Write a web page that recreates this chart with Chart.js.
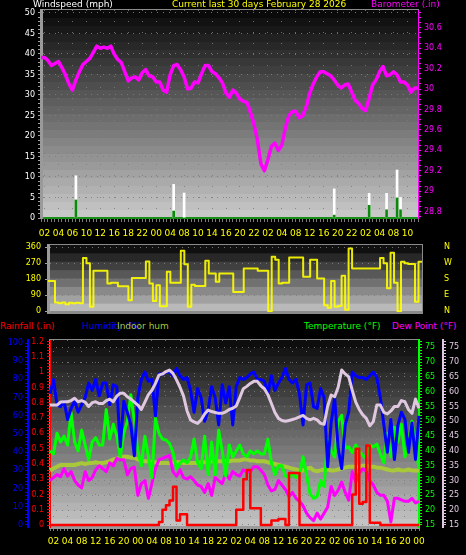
<!DOCTYPE html>
<html>
<head>
<meta charset="utf-8">
<title>Current last 30 days</title>
<script src="https://cdn.jsdelivr.net/npm/chart.js@4.4.1/dist/chart.umd.min.js"></script>
<style>
  body { margin: 0; background: #000; width: 466px; height: 555px; overflow: hidden; position: relative; font-family: 'DejaVu Sans', sans-serif; }
  canvas { position: absolute; left: 0; }
  .lbl { position: absolute; font-size: 9px; line-height: 10px; white-space: nowrap; }
</style>
</head>
<body>
<canvas id="wind-chart" width="466" height="240" style="top:0"></canvas>
<canvas id="dir-chart" width="466" height="80" style="top:240px"></canvas>
<canvas id="temp-chart" width="466" height="223" style="top:332px"></canvas>

<div class="lbl" style="left:33px;top:-1px;color:#fff">Windspeed (mph)</div>
<div class="lbl" style="left:172px;top:-1px;color:#ff0">Current last 30 days February 28 2026</div>
<div class="lbl" style="left:371px;top:-1px;color:#f0f">Barometer (.in)</div>

<div class="lbl" style="left:0;top:321px;color:#f00">Rainfall (.in)</div>
<div class="lbl" style="left:82px;top:321px;color:#00f">Humidity (%)</div>
<div class="lbl" style="left:117px;top:321px;color:#a8c83a">Indoor hum</div>
<div class="lbl" style="left:304px;top:321px;color:#0f0">Temperature (°F)</div>
<div class="lbl" style="left:392px;top:321px;color:#f0f">Dew Point (°F)</div>

<script>
//tick labels
const topTimeLabels = ["02","04","06","10","12","16","18","22","00","04","08","10","14","16","20","22","02","04","08","12","16","20","22","02","04","08","10"];
const bottomTimeLabels = ["02","04","08","12","16","20","00","04","08","10","14","18","22","02","04","08","12","16","20","22","02","06","10","14","16","20","00"];
const windTicks = [0, 5, 10, 15, 20, 25, 30, 35, 40, 45, 50];
const baroTicks = [28.8, 29, 29.2, 29.4, 29.6, 29.8, 30, 30.2, 30.4, 30.6];
const dirTicks = [0, 90, 180, 270, 360];
const dirLetters = ["N", "E", "S", "W", "N"];
const humTicks = [0, 10, 20, 30, 40, 50, 60, 70, 80, 90, 100];
const rainTicks = [0, 0.1, 0.2, 0.3, 0.4, 0.5, 0.6, 0.7, 0.8, 0.9, 1, 1.1, 1.2];
const tempTicks = [15, 20, 25, 30, 35, 40, 45, 50, 55, 60, 65, 70, 75];

//top chart data
const baroValues = [30.31,30.31,30.28,30.23,30.25,30.27,30.21,30.14,30.05,29.99,
  30.09,30.17,30.24,30.27,30.30,30.36,30.42,30.40,30.41,30.40,
  30.42,30.34,30.29,30.26,30.17,30.08,30.11,30.12,30.09,30.16,
  30.19,30.13,30.12,30.07,30.07,29.99,29.97,30.14,30.23,30.24,
  30.19,30.12,30.00,30.01,30.07,30.06,30.15,30.23,30.23,30.17,
  30.15,30.11,30.06,29.96,29.92,29.99,29.96,29.90,29.88,29.87,
  29.77,29.66,29.50,29.27,29.20,29.31,29.44,29.47,29.40,29.45,
  29.62,29.74,29.78,29.78,29.72,29.74,29.83,29.96,30.05,30.12,
  30.17,30.17,30.15,30.13,30.09,30.04,30.01,30.04,30.05,29.97,
  29.89,29.86,29.81,29.79,29.91,30.04,30.09,30.17,30.22,30.13,
  30.14,30.17,30.14,30.07,30.07,30.04,29.97,30.01,30.01];
const windSlots = [10, 38, 41, 84, 94, 99, 102, 103];
const gustPeaks = [10.3, 8.2, 6.1, 7.1, 6.0, 6.0, 11.7, 5.0];
const windPeaks = [4.4, 1.7, 0, 0.7, 3.1, 2.0, 4.9, 2.0];

//wind direction
const dirValues = [170,170,50,45,50,40,48,45,48,45,
  300,270,25,228,228,228,228,156,160,160,
  141,141,141,62,188,188,188,188,280,156,
  58,147,28,28,222,160,160,160,341,265,
  25,150,143,143,143,285,213,213,166,213,
  213,213,213,109,109,109,241,241,241,241,
  228,228,228,0,307,290,156,160,160,303,
  303,303,303,194,194,290,290,185,185,34,
  20,170,25,30,200,9,354,241,241,241,
  241,241,241,241,241,300,270,130,330,160,
  0,279,270,266,266,53,279,279];

//bottom chart data
const humValues = [72,80,66,65,68,58,64,68,62,66,
  70,78,74,80,71,78,78,66,77,76,
  43,68,62,55,38,70,80,84,79,80,
  60,83,83,84,84,82,86,82,80,81,
  74,62,75,70,57,63,76,70,55,77,
  67,76,55,76,81,80,81,83,84,80,
  80,79,72,82,74,78,81,86,80,78,
  80,72,55,77,78,65,64,75,70,32,
  56,70,42,31,55,62,84,82,81,81,
  80,82,84,81,70,55,40,58,36,55,
  62,58,40,56,36,60];
const indoorHumValues = [30,31,32,33,33,33,33,33,33.5,34,
  33.5,34,34,34.5,34,34,34.5,35,36,36.5,
  37,37.5,37.5,37,37,36,35.5,35,35,34.5,
  34.5,34,34,34,34,34.5,34.5,34.5,34,34,
  34,34,34,34.5,34.5,35,35,35,35,35,
  35,35,35.5,35.5,35.5,36,36,35.5,35.5,35,
  35,35,34.5,34,33.5,33,32.5,32,31.5,31,
  30.5,30,30,31,31.5,30,29.5,30,30.5,30.5,
  30,30,30.5,31,31.5,32,32,32,32,32.5,
  32.5,32,32,31.5,31.5,31,30.5,30,30,30.5,
  30,30,30.5,30,30,30];
const indoorTempValues = [55.5,55.5,55.5,56.5,56.6,56.6,57,57.8,56.6,57,
  56.5,55,56.3,56.6,56,56,57,57.5,56.6,58.5,
  59.5,59.5,58.3,57.5,56.5,55.5,54,56.5,59,60.5,
  62.8,65.6,66,66.8,67.3,66.2,64,61.5,58.5,53.5,
  50.5,49.8,49.3,50.5,52.5,53.8,53.3,53,52.7,52.7,
  53.2,54,54.4,55.2,58,61,61.8,62.8,63.5,63.5,
  62,61,59,56,53,51,50.3,50,50.3,50.6,
  51,51.5,52,51,50.5,51,50.5,49.3,49,55,
  58.9,58.3,61.5,67.3,66,65,60.5,56.5,54,52.2,
  51,48.5,49.9,55.5,55.5,53,52.5,53.5,55,55,
  57,56.6,54,52.7,57.5,54.4];
const tempValues = [40,39,46,43,45,42,53,43,40,47,
  42,37,43,44.5,42,42,54,44,49,45,
  38,46,50,59,50,40,35,45,38,31,
  51,46,44,43.7,42.5,39.5,34,36,37,36,
  38,44,36,34,45,32,43,32,47,40,
  31.5,42,38,40,42,39,38,40,39,40,
  39,39,44,36,32,35,35,31.5,31,32.4,
  31,32,38,32,25.5,24,24.6,30,28,44,
  40,38,50,52,41,41.4,39.5,42,40,38.5,
  37.5,42,41.4,42.3,39,36,46,38,48,43,
  49,38,42.6,50,42,34];
const dewValues = [30,31,32,31.3,34,31.5,33,30,28.5,27.5,
  33,30,31,33.6,35,34,33,36,35,37.5,
  37,37,32,34,34.5,25,29,30,24,29,
  34,37,37.5,38,38.5,33,31.5,33.6,31,30.5,
  31.3,30,28.5,28,26,29,25,31,30,29,
  32.4,30.5,33,32,31.5,33.6,33,33,34.7,34.7,
  33.5,32,28.5,26.5,27,30,28.5,27,24.6,26,
  24,23,21.5,19,17.5,16.5,19,17,19,21,
  28,25,26.8,29.5,26,23.4,33,29.5,32.5,34,
  33,30,28.5,26,25,25,23,16,24,24,
  23.5,23,23,24,22.5,23];
const rainValues = [0,0,0,0,0,0,0,0,0,0,
  0,0,0,0,0,0,0,0,0,0,
  0,0,0,0,0,0,0,0,0,0,
  0,0.02,0.1,0.13,0.16,0.25,0.03,0.07,0.07,0,
  0,0,0,0,0,0,0,0,0,0,
  0,0,0,0.1,0.1,0.3,0.36,0.11,0.11,0.11,
  0,0,0,0.03,0.03,0.04,0.04,0,0.34,0.34,
  0.34,0,0,0,0,0,0,0,0,0,
  0,0,0,0,0,0,0.2,0.5,0.14,0.15,
  0.52,0.015,0.015,0.015,0,0,0,0,0,0,
  0,0,0,0,0,0];

Chart.defaults.font.family = "'DejaVu Sans', sans-serif";
Chart.defaults.font.size = 8;
Chart.defaults.animation = false;
Chart.defaults.plugins.legend.display = false;
Chart.defaults.plugins.tooltip.enabled = false;
Chart.defaults.elements.point.radius = 0;
Chart.defaults.elements.line.borderJoinStyle = 'round';

//banded gray plot background
const plotBackground = {
    id: 'plotBackground',
    beforeDraw(chart, args, opts) {
        const {ctx, chartArea: a} = chart;
        const h = a.bottom - a.top;
        const bands = Math.max(2, Math.round(h / 8));
        ctx.save();
        for (let b = 0; b < bands; b++) {
            const g = Math.round(opts.from + (opts.to - opts.from) * b / (bands - 1));
            ctx.fillStyle = `rgb(${g},${g},${g})`;
            ctx.fillRect(a.left, a.top + h * b / bands, a.right - a.left, h / bands + 1);
        }
        ctx.strokeStyle = '#8a8a8a';
        ctx.lineWidth = 1;
        ctx.strokeRect(a.left - 0.5, a.top - 0.5, a.right - a.left + 1, a.bottom - a.top + 1);
        ctx.restore();
    }
};

function stepTicks(first, last, step) {
    const out = [];
    for (let v = first; v <= last + 1e-9; v += step) out.push({value: Math.round(v * 1000) / 1000});
    return out;
}
const isMajor = (list, v) => list.some(t => Math.abs(t - v) < 1e-6);

function sideAxis(o) {
    return {
        type: 'linear', axis: 'y', position: o.position, weight: o.weight || 0,
        min: o.min, max: o.max,
        afterBuildTicks: s => { s.ticks = stepTicks(o.first, o.last, o.minor); },
        afterFit: s => { s.width = o.width; s.paddingTop = 0; s.paddingBottom = 0; },
        ticks: {
            autoSkip: false, color: o.color, padding: o.pad || 3,
            callback: v => (isMajor(o.major, v) ? String(v) : '')
        },
        grid: {
            drawOnChartArea: !!o.dots,
            color: c => (o.dots && c.tick && isMajor(o.major, c.tick.value)) ? o.dots : 'transparent',
            tickColor: o.tickColor || o.color,
            tickLength: 3
        },
        border: { color: o.borderColor || o.color, width: o.borderWidth || 1, dash: [1, 5] }
    };
}

function timeAxis(o) {
    return {
        type: 'category', offset: false,
        afterFit: s => { s.height = o.height; s.paddingLeft = 0; s.paddingRight = 0; },
        ticks: { autoSkip: false, maxRotation: 0, color: '#ffff00', font: {size: 9}, padding: o.pad },
        grid: {
            offset: false,
            color: c => (c.index % 4 === 1 ? 'rgba(125,125,125,0.85)' : 'transparent'),
            tickColor: '#7a7a7a', tickLength: 4
        },
        border: { color: o.borderColor, width: o.borderWidth, dash: [1, 10] }
    };
}

const slotLabels = (n, names) => Array.from({length: n}, (_, i) => (i % 4 === 1 ? names[(i - 1) / 4] : ''));

//wind + barometer
const topLabels = slotLabels(baroValues.length, topTimeLabels);
const gustSeries = topLabels.map((_, i) => (windSlots.includes(i) ? gustPeaks[windSlots.indexOf(i)] : null));
const windSeries = topLabels.map((_, i) => (windSlots.includes(i) ? windPeaks[windSlots.indexOf(i)] : null));

new Chart(document.getElementById('wind-chart'), {
    type: 'bar',
    data: {
        labels: topLabels,
        datasets: [
            { type: 'line', label: 'Barometer', data: baroValues, yAxisID: 'baro', borderColor: '#ff00ff', borderWidth: 3.5, order: 0 },
            { label: 'Wind', data: windSeries, yAxisID: 'wind', backgroundColor: '#0a8a0a', barThickness: 2, grouped: false, order: 1 },
            { label: 'Gust', data: gustSeries, yAxisID: 'wind', backgroundColor: '#ffffff', barThickness: 2, grouped: false, order: 2 }
        ]
    },
    options: {
        responsive: false,
        layout: { padding: { top: 10, left: 0, right: 0, bottom: 0 } },
        plugins: { plotBackground: { from: 10, to: 200 } },
        scales: {
            x: timeAxis({ height: 22, pad: 6, borderColor: '#189018', borderWidth: 2 }),
            wind: sideAxis({ position: 'left', min: 0, max: 50.73, first: 0, last: 50, minor: 1, major: windTicks,
                width: 41, color: '#ffffff', tickColor: '#a0a0a0', borderColor: '#9a9a9a', borderWidth: 3,
                dots: 'rgba(125,125,125,0.9)', pad: 3 }),
            baro: sideAxis({ position: 'right', min: 28.738, max: 30.774, first: 28.75, last: 30.75, minor: 0.05,
                major: baroTicks, width: 48, color: '#ff00ff' })
        }
    },
    plugins: [plotBackground]
});

//wind direction
new Chart(document.getElementById('dir-chart'), {
    type: 'line',
    data: {
        labels: dirValues.map((_, i) => i),
        datasets: [{ label: 'Direction', data: dirValues, yAxisID: 'dir', borderColor: 'rgba(255,255,0,0.9)', borderWidth: 2, stepped: true }]
    },
    options: {
        responsive: false,
        layout: { padding: { top: 5, left: 0, right: 0, bottom: 0 } },
        plugins: { plotBackground: { from: 16, to: 185 } },
        scales: {
            x: {
                type: 'category', offset: false,
                afterFit: s => { s.height = 8; s.paddingLeft = 0; s.paddingRight = 0; },
                ticks: { display: false },
                grid: { display: false },
                border: { color: '#8a8a8a', width: 3 }
            },
            dir: sideAxis({ position: 'left', min: -4, max: 373, first: 0, last: 360, minor: 90, major: dirTicks,
                width: 48, color: '#ffff00', tickColor: '#a0a0a0', borderColor: '#9a9a9a', borderWidth: 3,
                dots: 'rgba(125,125,125,0.9)', pad: 4 }),
            compass: {
                type: 'linear', axis: 'y', position: 'right', min: -4, max: 373,
                afterBuildTicks: s => { s.ticks = dirTicks.map(v => ({value: v})); },
                afterFit: s => { s.width = 44; s.paddingTop = 0; s.paddingBottom = 0; },
                ticks: { autoSkip: false, color: '#ffff00', padding: 14, callback: v => dirLetters[dirTicks.indexOf(v)] },
                grid: { display: false },
                border: { display: false }
            }
        }
    },
    plugins: [plotBackground]
});

//temperature, humidity, rain
const bottomLabels = slotLabels(humValues.length, bottomTimeLabels);

new Chart(document.getElementById('temp-chart'), {
    type: 'line',
    data: {
        labels: bottomLabels,
        datasets: [
            { label: 'Rainfall', data: rainValues, yAxisID: 'rain', borderColor: '#ff0000', borderWidth: 2.5, stepped: true, order: 0 },
            { label: 'Indoor temp', data: indoorTempValues, yAxisID: 'indoor', borderColor: '#e0c8e0', borderWidth: 3, order: 1 },
            { label: 'Humidity', data: humValues, yAxisID: 'hum', borderColor: '#0000ff', borderWidth: 3, order: 2 },
            { label: 'Temperature', data: tempValues, yAxisID: 'temp', borderColor: '#00ff00', borderWidth: 3, order: 3 },
            { label: 'Dew Point', data: dewValues, yAxisID: 'temp', borderColor: '#ff00ff', borderWidth: 3, order: 4 },
            { label: 'Indoor hum', data: indoorHumValues, yAxisID: 'hum', borderColor: '#a8c83a', borderWidth: 4, order: 5 }
        ]
    },
    options: {
        responsive: false,
        layout: { padding: { top: 8, left: 0, right: 0, bottom: 0 } },
        plugins: { plotBackground: { from: 14, to: 195 } },
        scales: {
            x: timeAxis({ height: 28, pad: 5, borderColor: '#9a9a9a', borderWidth: 3 }),
            hum: sideAxis({ position: 'left', weight: 1, min: -1.1, max: 101.65, first: 0, last: 100, minor: 2,
                major: humTicks, width: 28, color: '#0000ff', borderWidth: 2, pad: 2 }),
            rain: sideAxis({ position: 'left', weight: 0, min: -0.013, max: 1.211, first: 0, last: 1.2, minor: 0.02,
                major: rainTicks, width: 22, color: '#ff0000' }),
            temp: sideAxis({ position: 'right', weight: 0, min: 14.32, max: 77.46, first: 15, last: 77, minor: 1,
                major: tempTicks, width: 24, color: '#00ff00', borderWidth: 2, dots: 'rgba(125,125,125,0.9)' }),
            indoor: sideAxis({ position: 'right', weight: 1, min: 14.32, max: 77.46, first: 15, last: 77, minor: 1,
                major: tempTicks, width: 23, color: '#e0c8e0', borderWidth: 2 })
        }
    },
    plugins: [plotBackground]
});
</script>
</body>
</html>
